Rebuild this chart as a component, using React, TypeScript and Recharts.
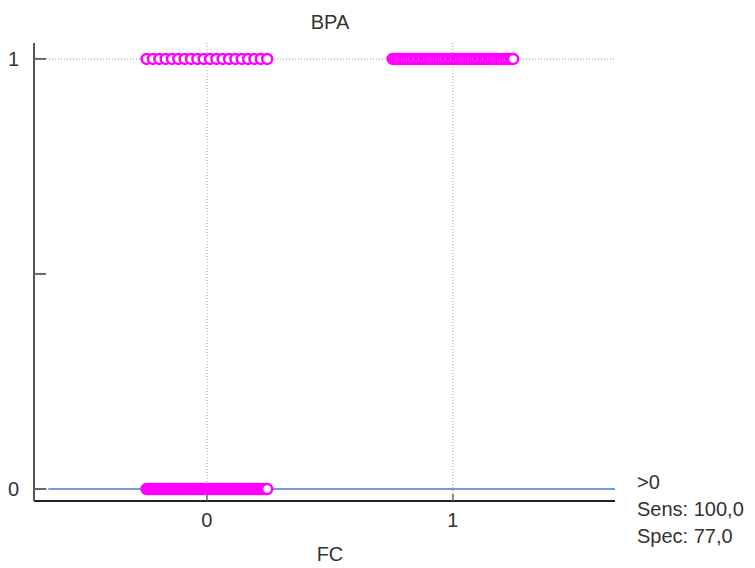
import { ScatterChart, Scatter, XAxis, YAxis, CartesianGrid, ReferenceLine } from "recharts";

// groups of observations: FC class, BPA class, number of cases
const fcGroup = [0, 0, 1];
const bpaGroup = [0, 1, 1];
const groupN = [67, 20, 50];

const xTicks = [0, 1];
const yTicks = [0, 0.5, 1];
const criterion = [">0", "Sens: 100,0", "Spec: 77,0"];

const SPREAD = 0.245;

// dot plot: cases of a group are spread evenly around their category
const points: { x: number; y: number }[] = [];
fcGroup.forEach((fc, g) => {
  const n = groupN[g];
  for (let i = 0; i < n; i++) {
    points.push({ x: fc - SPREAD + (2 * SPREAD * i) / Math.max(n - 1, 1), y: bpaGroup[g] });
  }
});

const FONT = "'Liberation Sans', Arial, sans-serif";
const TEXT = "#333";
const FS = 20;

const Dot = (props: any) => (
  <circle cx={props.cx} cy={props.cy} r={5} fill="#fff" stroke="#ff00ff" strokeWidth={2.5} />
);

const YTick = (props: any) => {
  const { x, y, payload } = props;
  return (
    <g>
      <line x1={x + 14} x2={x + 26} y1={y} y2={y} stroke="#666" strokeWidth={2} />
      {payload.value !== 0.5 && (
        <text x={x - 1} y={y} dy={7} textAnchor="end" fill={TEXT} fontSize={FS} fontFamily={FONT}>
          {payload.value}
        </text>
      )}
    </g>
  );
};

const XTick = (props: any) => {
  const { x, y, payload } = props;
  return (
    <g>
      <line x1={x} x2={x} y1={y - 14} y2={y - 21} stroke="#666" strokeWidth={1.5} />
      <text x={x} y={y} dy={12} textAnchor="middle" fill={TEXT} fontSize={FS} fontFamily={FONT}>
        {payload.value}
      </text>
    </g>
  );
};

export default function App() {
  return (
    <div style={{ position: "absolute", left: 0, top: 0, width: 755, height: 568, background: "#fff" }}>
      <ScatterChart width={755} height={568} margin={{ top: 43, right: 140, bottom: 37, left: 10 }}>
        <CartesianGrid
          stroke="#999"
          strokeDasharray="1 2"
          horizontalValues={[0, 1]}
          verticalValues={[0, 1]}
        />
        <XAxis
          type="number"
          dataKey="x"
          domain={[-0.703, 1.659]}
          ticks={xTicks}
          allowDataOverflow
          tickLine={false}
          tickSize={0}
          tickMargin={14}
          tick={<XTick />}
          height={30}
          axisLine={{ stroke: "#222", strokeWidth: 2 }}
        />
        <YAxis
          type="number"
          dataKey="y"
          domain={[-0.028, 1.037]}
          ticks={yTicks}
          allowDataOverflow
          tickLine={false}
          tickSize={0}
          tickMargin={14}
          tick={<YTick />}
          width={24}
          axisLine={{ stroke: "#555", strokeWidth: 2 }}
        />
        <ReferenceLine
          segment={[
            { x: -0.645, y: 0 },
            { x: 1.659, y: 0 },
          ]}
          stroke="#6f9fd8"
          strokeWidth={2}
        />
        <Scatter data={points} shape={<Dot />} isAnimationActive={false} />
        <text x={330} y={29} textAnchor="middle" fill={TEXT} fontSize={FS} fontFamily={FONT}>
          BPA
        </text>
        <text x={330} y={561} textAnchor="middle" fill={TEXT} fontSize={FS} fontFamily={FONT}>
          FC
        </text>
        {criterion.map((t, i) => (
          <text key={t} x={637} y={489 + i * 27} fill={TEXT} fontSize={FS} fontFamily={FONT}>
            {t}
          </text>
        ))}
      </ScatterChart>
    </div>
  );
}
